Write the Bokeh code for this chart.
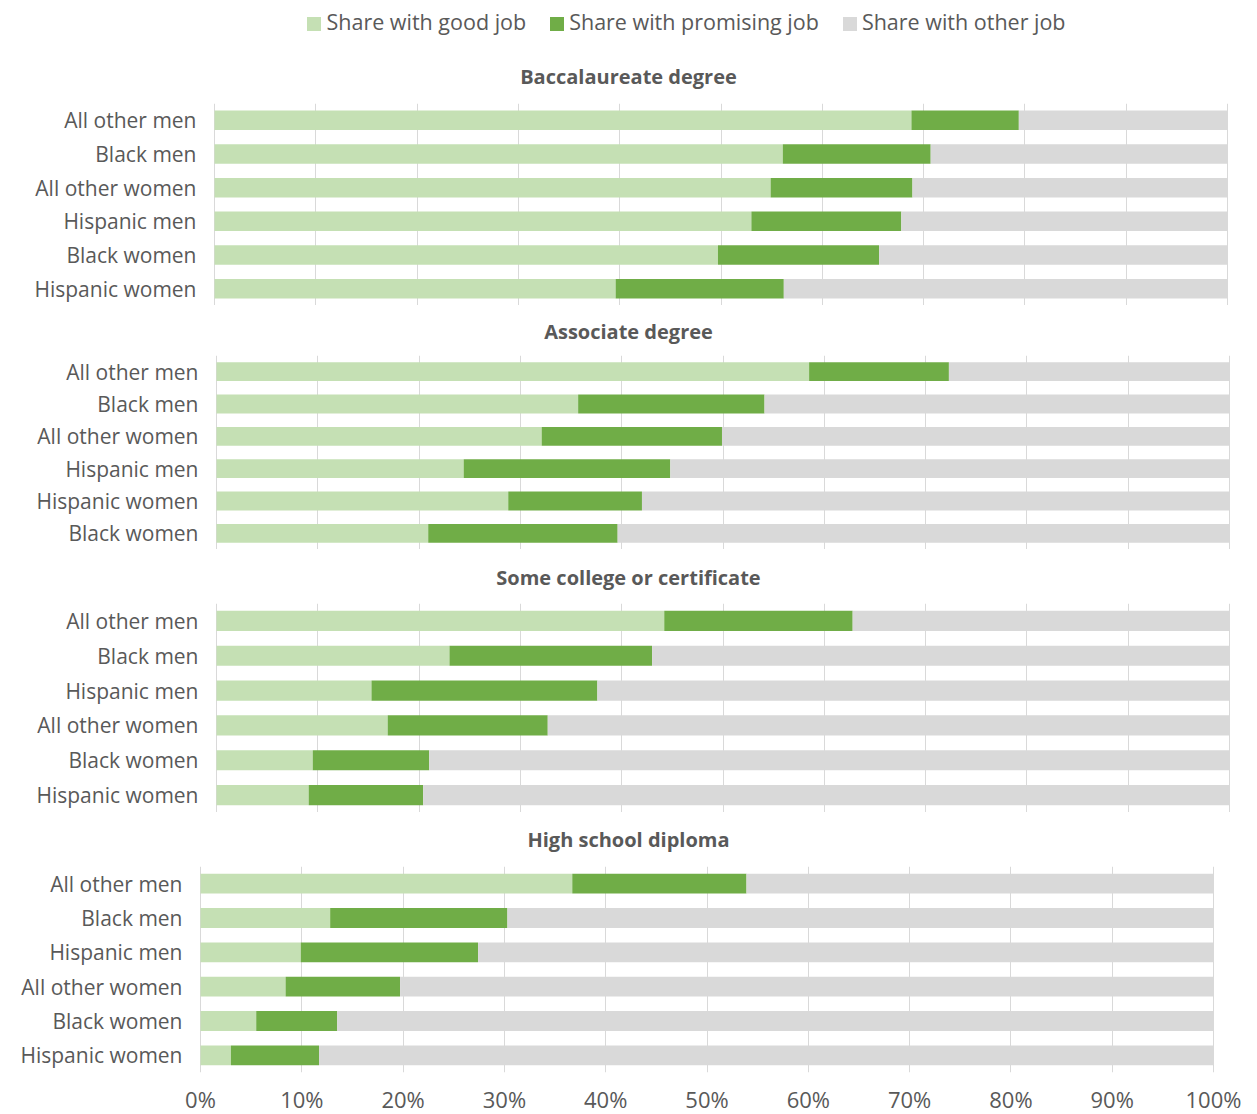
from bokeh.plotting import figure
from bokeh.layouts import column
from bokeh.models import Div, Range1d, FactorRange, Grid, FixedTicker, ColumnDataSource
from bokeh.core.properties import value
from bokeh.embed import file_html
from bokeh.resources import INLINE

# ---------------- data ----------------
series_names = ["Share with good job", "Share with promising job", "Share with other job"]
series_colors = ["#C5E0B4", "#70AD47", "#D9D9D9"]

x_ticks = [0, 10, 20, 30, 40, 50, 60, 70, 80, 90, 100]
x_tick_labels = ["0%", "10%", "20%", "30%", "40%", "50%", "60%", "70%", "80%", "90%", "100%"]

panel_titles = ["Baccalaureate degree", "Associate degree",
                "Some college or certificate", "High school diploma"]

bacc_cats = ["All other men", "Black men", "All other women", "Hispanic men", "Black women", "Hispanic women"]
bacc_good = [68.8, 56.1, 54.9, 53.0, 49.7, 39.6]
bacc_prom = [10.6, 14.6, 14.0, 14.8, 15.9, 16.6]

assoc_cats = ["All other men", "Black men", "All other women", "Hispanic men", "Hispanic women", "Black women"]
assoc_good = [58.5, 35.7, 32.1, 24.4, 28.8, 20.9]
assoc_prom = [13.8, 18.4, 17.8, 20.4, 13.2, 18.7]

some_cats = ["All other men", "Black men", "Hispanic men", "All other women", "Black women", "Hispanic women"]
some_good = [44.2, 23.0, 15.3, 16.9, 9.5, 9.1]
some_prom = [18.6, 20.0, 22.3, 15.8, 11.5, 11.3]

hs_cats = ["All other men", "Black men", "Hispanic men", "All other women", "Black women", "Hispanic women"]
hs_good = [36.7, 12.8, 9.9, 8.4, 5.5, 3.0]
hs_prom = [17.2, 17.5, 17.5, 11.3, 8.0, 8.7]

# ---------------- style / layout ----------------
TOTAL_W = 1257
FRAME_W = 1013          # pixel width of the 0..100 % span
LABEL_GAP = 18          # gap between category label and bar start
TEXT_COLOR = "#595959"
FONT = "Open Sans"


def make_panel(cats, good, prom, bar_left, frame_h, show_x):
    other = [round(100 - g - p, 1) for g, p in zip(good, prom)]
    src = ColumnDataSource(dict(cat=cats, good=good, prom=prom, other=other))
    px = 100.0 / FRAME_W                     # data units per pixel
    right_extra = TOTAL_W - bar_left - FRAME_W
    p = figure(
        y_range=FactorRange(*reversed(cats)),
        x_range=Range1d(-bar_left * px, 100 + right_extra * px),
        width=TOTAL_W,
        frame_height=frame_h,
        min_border_left=0, min_border_right=0,
        min_border_top=0, min_border_bottom=38 if show_x else 0,
        x_axis_location="below" if show_x else None,
        y_axis_location=None,
        toolbar_location=None, output_backend="svg",
    )
    p.outline_line_color = None
    p.xgrid.visible = False
    p.ygrid.visible = False
    p.add_layout(Grid(dimension=0, ticker=FixedTicker(ticks=x_ticks),
                      grid_line_color="#D9D9D9", grid_line_width=1))
    p.hbar_stack(["good", "prom", "other"], y="cat", height=0.58,
                 color=series_colors, line_color=None, source=src)

    # category labels, right-aligned just left of 0 %
    lab = ColumnDataSource(dict(y=cats, text=cats, x=[-LABEL_GAP * px] * len(cats)))
    p.text(x="x", y="y", text="text", source=lab, text_align="right",
           text_baseline="middle", text_font=value(FONT), text_font_size="21px",
           text_color=TEXT_COLOR)

    if show_x:
        p.xaxis.ticker = FixedTicker(ticks=x_ticks)
        p.xaxis.major_label_overrides = {t: l for t, l in zip(x_ticks, x_tick_labels)}
        p.xaxis.axis_line_color = None
        p.xaxis.major_tick_line_color = None
        p.xaxis.minor_tick_line_color = None
        p.xaxis.major_tick_out = 0
        p.xaxis.major_tick_in = 0
        p.xaxis.major_label_standoff = 11
        p.xaxis.major_label_text_font = FONT
        p.xaxis.major_label_text_font_size = "22px"
        p.xaxis.major_label_text_color = TEXT_COLOR
    return p


def title_div(text, height, pad_top):
    html = (f'<div style="width:{TOTAL_W}px;text-align:center;font-family:\'{FONT}\';'
            f'font-weight:bold;font-size:20px;color:{TEXT_COLOR};line-height:24px;'
            f'padding-top:{pad_top}px">{text}</div>')
    return Div(text=html, width=TOTAL_W, height=height, margin=(0, 0, 0, 0))


items = []
for i, (name, col) in enumerate(zip(series_names, series_colors)):
    gap = "" if i == 0 else '<span style="display:inline-block;width:24px"></span>'
    items.append(
        f'{gap}<span style="display:inline-block;width:14px;height:14px;background:{col};'
        f'margin-right:5px;vertical-align:-1px"></span>{name}')
legend_html = (f'<div style="box-sizing:border-box;width:{TOTAL_W}px;padding-left:116px;'
               f'text-align:center;font-family:\'{FONT}\';font-size:21.5px;color:{TEXT_COLOR};'
               f'line-height:44px;white-space:nowrap">' + "".join(items) + '</div>')
legend_div = Div(text=legend_html, width=TOTAL_W, height=44, margin=(0, 0, 0, 0))

p1 = make_panel(bacc_cats, bacc_good, bacc_prom, 214, 202, False)
p2 = make_panel(assoc_cats, assoc_good, assoc_prom, 216, 194, False)
p3 = make_panel(some_cats, some_good, some_prom, 216, 209, False)
p4 = make_panel(hs_cats, hs_good, hs_prom, 200, 206, True)

layout = column(
    legend_div,
    title_div(panel_titles[0], 59, 21),
    p1,
    title_div(panel_titles[1], 50, 15),
    p2,
    title_div(panel_titles[2], 54, 17),
    p3,
    title_div(panel_titles[3], 54, 16),
    p4,
    spacing=0,
)

open("out.html", "w").write(file_html(layout, INLINE))
